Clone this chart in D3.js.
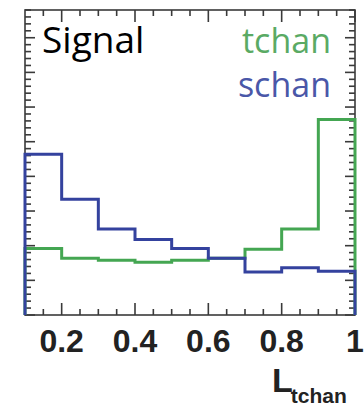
<!DOCTYPE html>
<html>
<head>
<meta charset="utf-8">
<script src="https://cdn.jsdelivr.net/npm/d3@7"></script>
<style>
  html, body { margin: 0; padding: 0; background: #fff; }
  svg { display: block; }
</style>
</head>
<body>
<svg id="chart" width="364" height="408"></svg>
<script>
// Normalised signal distributions of the t-channel likelihood discriminant
const binEdges = [0.1, 0.2, 0.3, 0.4, 0.5, 0.6, 0.7, 0.8, 0.9, 1.0];
const tchan = [0.096, 0.082, 0.079, 0.076, 0.079, 0.082, 0.095, 0.124, 0.282];
const schan = [0.232, 0.167, 0.124, 0.109, 0.096, 0.082, 0.062, 0.068, 0.063];
const xTickValues = [0.2, 0.4, 0.6, 0.8, 1.0];
const xTickLabels = ["0.2", "0.4", "0.6", "0.8", "1"];

const svg = d3.select("#chart");
const frame = { left: 25, right: 355, top: 10, bottom: 315 };

const x = d3.scaleLinear().domain([0.1, 1.0]).range([frame.left, frame.right]);
const y = d3.scaleLinear().domain([0, 0.44]).range([frame.bottom, frame.top]);

const frameColor = "#3a3a3a";

// Histogram outlines (step shape, closed down to zero at both ends)
function stepPath(values) {
  const pts = [[x(binEdges[0]), y(0)]];
  values.forEach((v, i) => {
    pts.push([x(binEdges[i]), y(v)]);
    pts.push([x(binEdges[i + 1]), y(v)]);
  });
  pts.push([x(binEdges[binEdges.length - 1]), y(0)]);
  return d3.line()(pts);
}

// Frame
svg.append("rect")
  .attr("x", frame.left).attr("y", frame.top)
  .attr("width", frame.right - frame.left).attr("height", frame.bottom - frame.top)
  .attr("fill", "none").attr("stroke", frameColor).attr("stroke-width", 1.6);

// Ticks on all four sides, pointing into the frame
const xMajor = d3.range(0.2, 1.0001, 0.2);
const xMinor = d3.range(0.15, 1.0001, 0.05).filter(v => !xMajor.some(m => Math.abs(m - v) < 1e-6));
const yMajor = d3.range(0, 0.4401, 0.05);
const yMinor = d3.range(0, 0.4401, 0.01).filter(v => !yMajor.some(m => Math.abs(m - v) < 1e-6));

const ticks = svg.append("g").attr("stroke", frameColor).attr("stroke-width", 1.6);

function addLines(vals, x1, x2, y1, y2) {
  const g = ticks.append("g");
  g.selectAll("line").data(vals).enter().append("line")
    .attr("x1", x1).attr("x2", x2).attr("y1", y1).attr("y2", y2);
}
function xTicks(vals, len) {
  addLines(vals, d => x(d), d => x(d), frame.bottom, frame.bottom - len);
  addLines(vals, d => x(d), d => x(d), frame.top, frame.top + len);
}
function yTicks(vals, len) {
  addLines(vals, frame.left, frame.left + len, d => y(d), d => y(d));
  addLines(vals, frame.right, frame.right - len, d => y(d), d => y(d));
}
xTicks(xMajor, 12);
xTicks(xMinor, 6);
yTicks(yMajor, 10);
yTicks(yMinor, 6);

svg.append("path").attr("d", stepPath(tchan))
  .attr("fill", "none").attr("stroke", "#44a652").attr("stroke-width", 3);
svg.append("path").attr("d", stepPath(schan))
  .attr("fill", "none").attr("stroke", "#34429e").attr("stroke-width", 3);

// X tick labels
svg.append("g").selectAll("text").data(xTickValues).join("text")
  .attr("x", d => x(d)).attr("y", 352)
  .attr("text-anchor", "middle")
  .attr("font-family", "'Liberation Sans', Arial, sans-serif")
  .attr("font-weight", "bold").attr("font-size", 32).attr("fill", "#222")
  .text((d, i) => xTickLabels[i]);

// Axis title with subscript
const title = svg.append("text")
  .attr("x", 272).attr("y", 392)
  .attr("font-family", "'Liberation Sans', Arial, sans-serif")
  .attr("font-weight", "bold").attr("fill", "#222");
title.append("tspan").attr("font-size", 34).text("L");
title.append("tspan").attr("font-size", 21).attr("dy", 11).attr("dx", -2).text("tchan");

// In-frame labels
svg.append("text").attr("x", 42).attr("y", 53)
  .attr("font-family", "'Open Sans', sans-serif").attr("font-size", 37)
  .attr("fill", "#000").text("Signal");
svg.append("text").attr("x", 331).attr("y", 53).attr("text-anchor", "end")
  .attr("font-family", "'Open Sans', sans-serif").attr("font-size", 34)
  .attr("fill", "#5aaa64").text("tchan");
svg.append("text").attr("x", 331).attr("y", 97).attr("text-anchor", "end")
  .attr("font-family", "'Open Sans', sans-serif").attr("font-size", 34)
  .attr("fill", "#4a57a8").text("schan");
</script>
</body>
</html>
